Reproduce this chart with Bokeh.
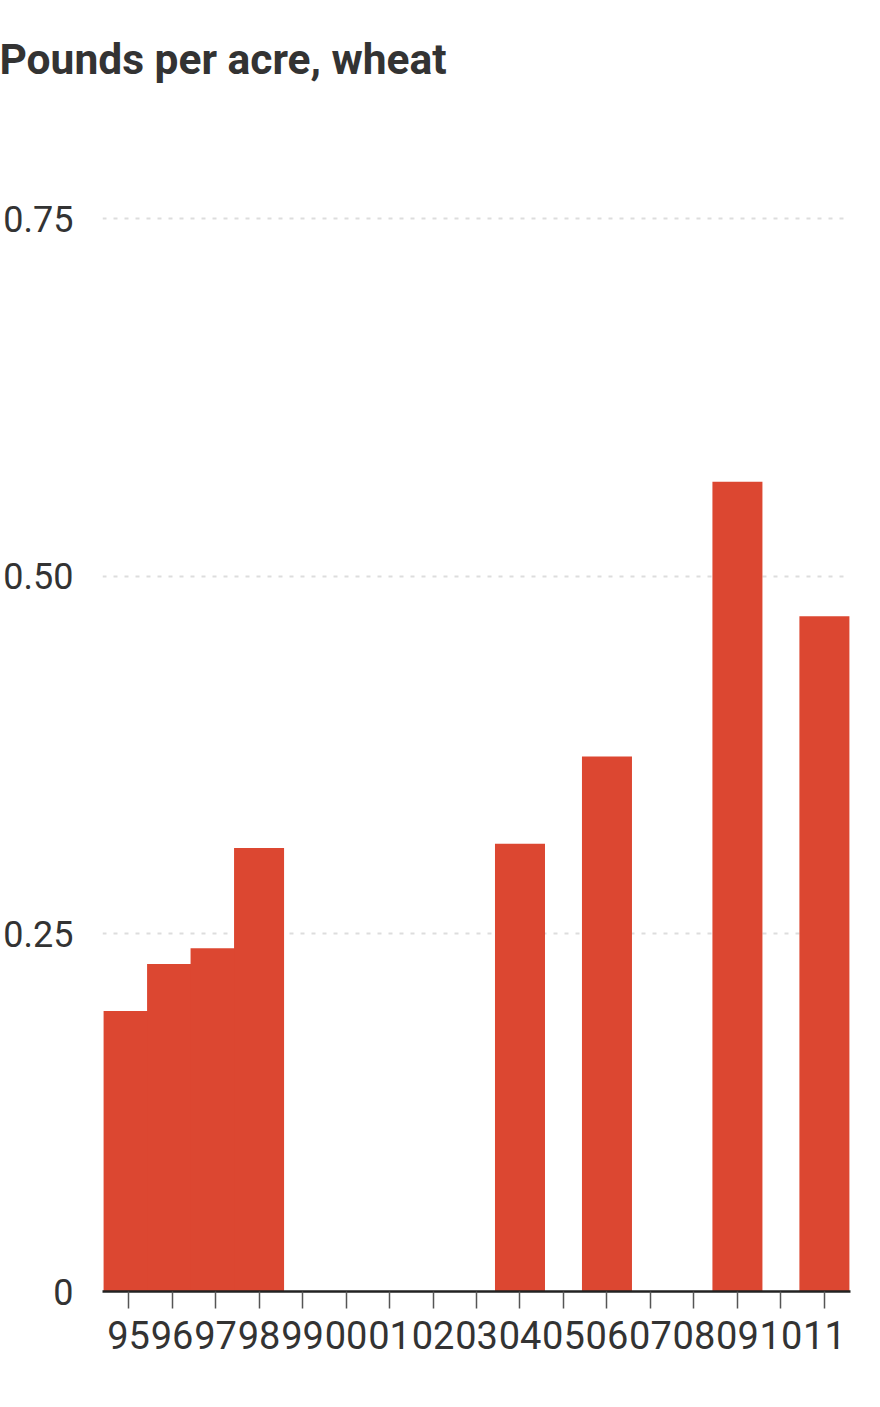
from bokeh.plotting import figure
from bokeh.models import FactorRange, Range1d, FixedTicker, CustomJSTickFormatter, ColumnDataSource
from bokeh.embed import file_html
from bokeh.resources import INLINE

years = ["95", "96", "97", "98", "99", "00", "01", "02", "03", "04", "05", "06", "07", "08", "09", "10", "11"]
pounds = [0.196, 0.229, 0.240, 0.310, None, None, None, None, None, 0.313, None, 0.374, None, None, 0.566, None, 0.472]
y_ticks = [0, 0.25, 0.5, 0.75]
title_text = "Pounds per acre, wheat"

FONT = "Roboto"
TEXT = "#333333"
BAR = "#DC4731"

vals = [float("nan") if v is None else v for v in pounds]
src = ColumnDataSource(dict(year=years, value=vals))

p = figure(
    width=864, height=1391,
    x_range=FactorRange(factors=years, range_padding=0.1, range_padding_units="absolute"),
    y_range=Range1d(0, 0.8325),
    output_backend="svg", toolbar_location=None,
    min_border_left=101, min_border_right=14, min_border_top=100, min_border_bottom=100,
    title=title_text,
)
p.outline_line_color = None
p.background_fill_color = "white"
p.border_fill_color = "white"

p.title.text_font = FONT
p.title.text_font_style = "bold"
p.title.text_font_size = "42.5px"
p.title.text_color = TEXT
p.title.align = "left"
p.title.offset = -103
p.title.standoff = 33

p.vbar(x="year", top="value", bottom=0, width=1.15, source=src, fill_color=BAR, line_color=None)

# y axis
yax = p.yaxis[0]
yax.ticker = FixedTicker(ticks=y_ticks)
yax.formatter = CustomJSTickFormatter(code="return tick == 0 ? '0' : tick.toFixed(2);")
yax.axis_line_color = None
yax.major_tick_line_color = None
yax.minor_tick_line_color = None
yax.major_tick_out = 0
yax.major_tick_in = 0
yax.major_label_standoff = 29
yax.major_label_text_font = FONT
yax.major_label_text_font_size = "36px"
yax.major_label_text_color = TEXT

# x axis
xax = p.xaxis[0]
xax.axis_line_color = "#222222"
xax.axis_line_width = 2.5
xax.major_tick_line_color = "#555555"
xax.major_tick_line_width = 1.5
xax.major_tick_out = 17
xax.major_tick_in = 0
xax.major_label_standoff = 12
xax.major_label_text_font = FONT
xax.major_label_text_font_size = "38px"
xax.major_label_text_color = TEXT

p.xgrid.grid_line_color = None
p.ygrid.ticker = FixedTicker(ticks=[0.25, 0.5, 0.75])
p.ygrid.grid_line_color = "#dddddd"
p.ygrid.grid_line_width = 2
p.ygrid.grid_line_dash = "4 7"

open("out.html", "w").write(file_html(p, INLINE))
